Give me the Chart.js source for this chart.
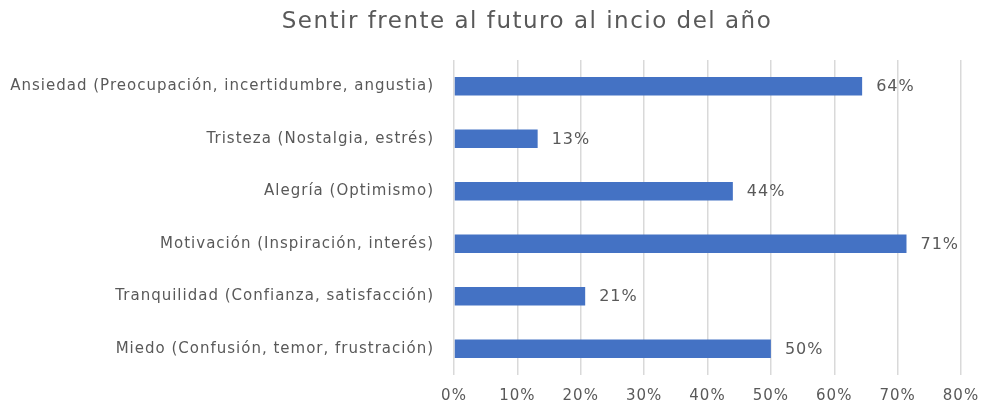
<!DOCTYPE html>
<html><head><meta charset="utf-8">
<script src="https://cdn.jsdelivr.net/npm/chart.js@4"></script>
<style>html,body{margin:0;padding:0;background:#fff;}#wrap{width:983px;height:407px;}</style>
</head><body><div id="wrap"><canvas id="c" width="983" height="407"></canvas></div>
<script>
const titleText = "Sentir frente al futuro al incio del año";
const categories = [
  "Ansiedad (Preocupación, incertidumbre, angustia)",
  "Tristeza (Nostalgia, estrés)",
  "Alegría (Optimismo)",
  "Motivación (Inspiración, interés)",
  "Tranquilidad (Confianza, satisfacción)",
  "Miedo (Confusión, temor, frustración)"
];
const values = [64.4, 13.2, 44.0, 71.4, 20.7, 50.0];
const xTicks = [0, 10, 20, 30, 40, 50, 60, 70, 80];

const FONT = "'DejaVu Sans', sans-serif";
const TXT = '#595959';

const spacingPlugin = {
  id: 'spacing',
  beforeDraw(chart) { chart.ctx.letterSpacing = '1px'; }
};
const labelPlugin = {
  id: 'vals',
  afterDatasetsDraw(chart) {
    const ctx = chart.ctx;
    const meta = chart.getDatasetMeta(0);
    ctx.save();
    ctx.letterSpacing = '1px';
    ctx.font = '16px ' + FONT;
    ctx.fillStyle = TXT;
    ctx.textBaseline = 'middle';
    ctx.textAlign = 'left';
    meta.data.forEach((bar, i) => {
      ctx.fillText(Math.round(values[i]) + '%', bar.x + 14, bar.y + 1);
    });
    ctx.restore();
  }
};
const titlePlugin = {
  id: 'ttl',
  afterDraw(chart) {
    const ctx = chart.ctx;
    ctx.save();
    ctx.letterSpacing = '1.5px';
    ctx.font = '23px ' + FONT;
    ctx.fillStyle = TXT;
    ctx.textAlign = 'center';
    ctx.textBaseline = 'middle';
    ctx.fillText(titleText, 527, 22);
    ctx.restore();
  }
};

new Chart(document.getElementById('c'), {
  type: 'bar',
  data: {
    labels: categories,
    datasets: [{
      data: values,
      backgroundColor: '#4472C4',
      barPercentage: 0.35,
      categoryPercentage: 1.0
    }]
  },
  options: {
    indexAxis: 'y',
    responsive: false,
    animation: false,
    layout: { padding: { top: 60, right: 22, left: 0, bottom: 0 } },
    plugins: { legend: { display: false }, tooltip: { enabled: false }, title: { display: false } },
    scales: {
      x: {
        min: 0, max: 80,
        afterBuildTicks(scale) { scale.ticks = xTicks.map(v => ({ value: v })); },
        afterFit(scale) { scale.height = 32; scale.paddingRight = 0; scale.paddingLeft = 0; },
        grid: { color: '#d9d9d9', lineWidth: 1.5, drawTicks: false },
        border: { display: false },
        ticks: { color: TXT, font: { family: FONT, size: 15 }, padding: 12, callback: v => v + '%' }
      },
      y: {
        afterFit(scale) { scale.width = 454; scale.paddingTop = 0; scale.paddingBottom = 0; },
        grid: { display: false, drawTicks: false },
        border: { display: false },
        ticks: { color: TXT, font: { family: FONT, size: 15 }, padding: 20 }
      }
    }
  },
  plugins: [spacingPlugin, labelPlugin, titlePlugin]
});
</script></body></html>
